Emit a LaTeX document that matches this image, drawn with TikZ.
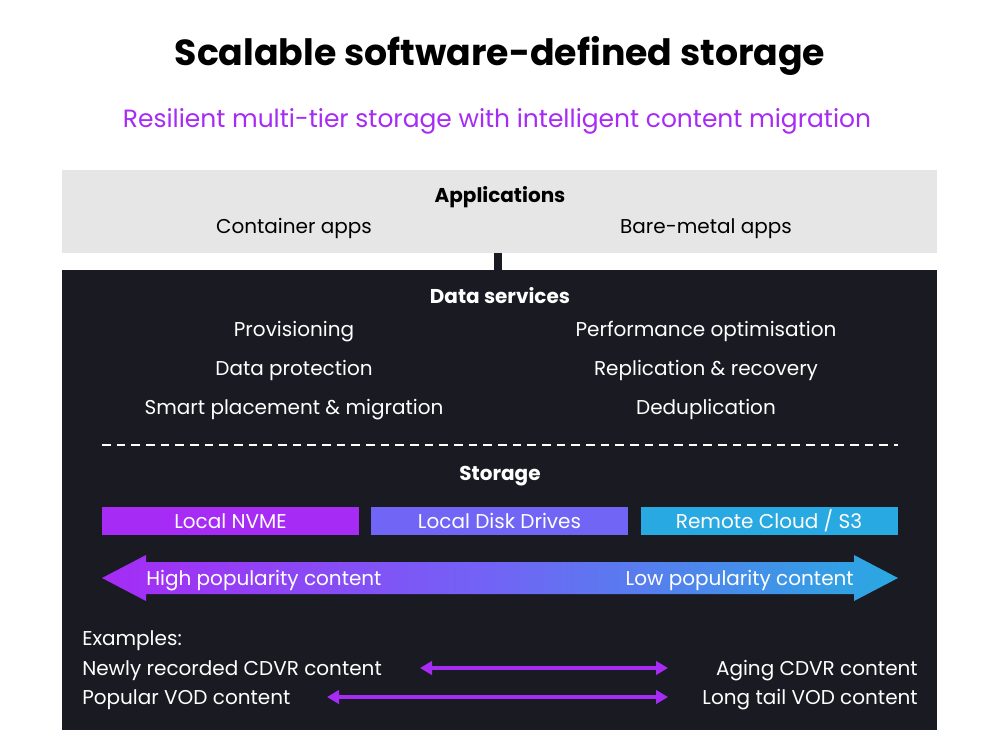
\documentclass[tikz,border=0pt]{standalone}
\usepackage{fontspec}
\setmainfont{Poppins}
\usetikzlibrary{arrows.meta}
\definecolor{purp}{HTML}{A62BF5}
\definecolor{lav}{HTML}{7065F5}
\definecolor{sky}{HTML}{29A9E1}
\definecolor{lgray}{HTML}{E6E6E6}
\definecolor{dark}{HTML}{1A1A22}
\tikzset{
  body/.style={font=\fontsize{15}{18}\selectfont, inner sep=0pt, yshift=-2.2pt},
  head/.style={font=\fontsize{15}{18}\selectfont\bfseries, inner sep=0pt, yshift=-2.2pt},
  wbody/.style={body, text=white},
  whead/.style={head, text=white},
  tier/.style={minimum width=192.75pt, minimum height=21pt, inner sep=0pt, text=white, font=\fontsize{15}{18}\selectfont},
  example/.style={draw=purp, line width=2.3pt, {Triangle[length=9pt,width=10pt]}-{Triangle[length=9pt,width=10pt]}},
}
\begin{document}
\begin{tikzpicture}[x=0.75pt,y=-0.75pt]
\useasboundingbox[fill=white] (0,0) rectangle (1000,750);
% title
\node[font=\fontsize{27.2}{32}\selectfont\bfseries, inner sep=0pt] (title) at (500,56) {Scalable software-defined storage};
\node[font=\fontsize{18.7}{22}\selectfont, text=purp, inner sep=0pt] (subtitle) at (497,121) {Resilient multi-tier storage with intelligent content migration};
% boxes
\node[fill=lgray, minimum width=656.25pt, minimum height=62.25pt, inner sep=0pt] (apps) at (499.5,211.5) {};
\node[fill=dark, minimum width=656.25pt, minimum height=345pt, inner sep=0pt] (dark) at (499.5,500) {};
\draw[dark, line width=6pt] ([xshift=-1pt]apps.south) -- ([xshift=-1pt]dark.north);
% applications
\node[head] (apph) at (500,194) {Applications};
\node[body] (cont) at (294,226) {Container apps};
\node[body] (bare) at (706,226) {Bare-metal apps};
% data services
\node[whead] (dsh) at (500,293) {Data services};
\node[wbody] (d1) at (294,329) {Provisioning};
\node[wbody] (d2) at (706,329) {Performance optimisation};
\node[wbody] (d3) at (294,368) {Data protection};
\node[wbody] (d4) at (706,368) {Replication \& recovery};
\node[wbody] (d5) at (294,407) {Smart placement \& migration};
\node[wbody] (d6) at (706,407) {Deduplication};
\coordinate (dl) at (102,445);
\coordinate (dr) at (898,445);
\draw[white, line width=1.5pt, dash pattern=on 6.5pt off 4.5pt] (dl) -- (dr);
% storage
\node[whead] (sth) at (500,473) {Storage};
\node[tier, fill=purp] (nvme) at (230.5,521) {Local NVME};
\node[tier, fill=lav] (disk) at (499.5,521) {Local Disk Drives};
\node[tier, fill=sky] (cloud) at (769,521) {Remote Cloud / S3};
% gradient arrow
\shade[left color=purp, right color=sky, middle color=lav]
  (102,578) -- (146,555) -- (146,562) -- (854,562) -- (854,555) -- (898,578)
  -- (854,601) -- (854,594) -- (146,594) -- (146,601) -- cycle;
\node[wbody, anchor=west] (high) at (146,578) {High popularity content};
\node[wbody, anchor=east] (low) at (854,578) {Low popularity content};
% examples
\node[wbody, anchor=west] (ex) at (82,638) {Examples:};
\node[wbody, anchor=west] (e1) at (82,668) {Newly recorded CDVR content};
\node[wbody, anchor=east] (e2) at (918,668) {Aging CDVR content};
\node[wbody, anchor=west] (e3) at (82,697) {Popular VOD content};
\node[wbody, anchor=east] (e4) at (918,697) {Long tail VOD content};
\coordinate (a1l) at (420,668);
\coordinate (a1r) at (668,668);
\coordinate (a2l) at (327,697);
\coordinate (a2r) at (668,697);
\draw[example] (a1l) -- (a1r);
\draw[example] (a2l) -- (a2r);
\end{tikzpicture}
\end{document}
